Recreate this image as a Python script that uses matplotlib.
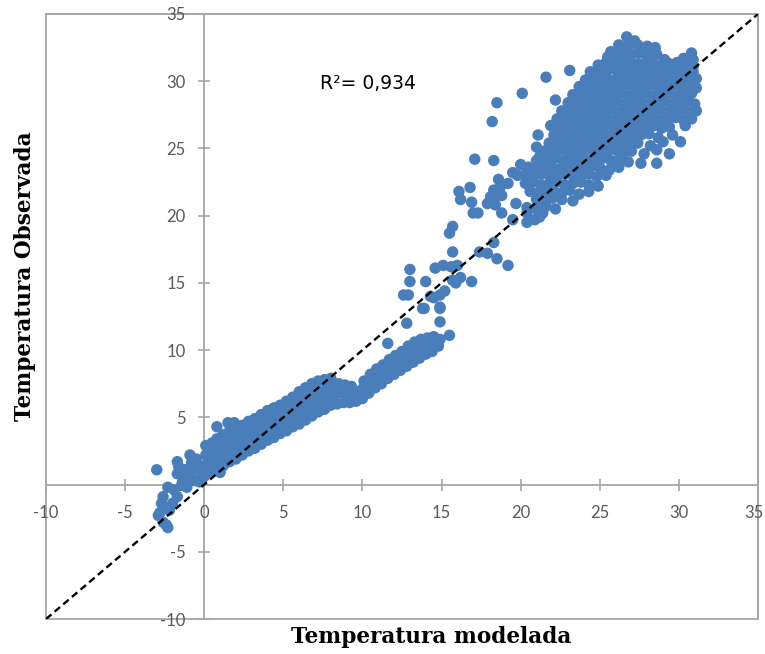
import numpy as np
import matplotlib
matplotlib.use("Agg")
import matplotlib.pyplot as plt
from matplotlib.patches import Rectangle
from matplotlib.transforms import ScaledTranslation

# ---- data (modelada, observada) ----
neg_pts = [(-3.0,1.1),(-2.3,-0.2),(-2.6,-0.9),(-2.7,-1.4),(-2.9,-2.3),(-2.6,-2.8),(-2.3,-3.2),
           (-2.8,-2.1),(-2.4,-3.0),(-1.9,-0.4),(-1.7,-0.9),(-2.0,-1.4),(-1.6,1.3),(-1.7,0.8),
           (-1.7,1.7),(-1.3,0.6),(-0.9,2.2),(-0.8,1.6),(-1.1,-0.2),(-0.6,0.3),(-1.4,0.0),
           (-0.3,0.2),(-2.2,-1.9),(-1.2,1.1),(0.8,4.3),(1.5,4.6),(1.9,4.6),(1.0,0.9)]

band_pts = [(-0.8,0.3),(-0.8,1.1),(-0.5,1.9),(-0.4,0.4),(-0.4,1.2),
            (0.0,0.6),(0.0,1.4),(0.1,2.2),(0.1,2.9),(0.4,0.9),(0.4,1.7),(0.5,2.5),(0.5,3.1),
            (0.8,1.2),(0.8,2.0),(0.9,2.8),(0.8,3.4),(1.2,1.4),(1.2,2.2),(1.3,3.0),(1.2,3.7),
            (1.6,1.7),(1.6,2.5),(1.7,3.3),(1.6,4.0),(2.0,1.9),(2.0,2.7),(2.1,3.5),(2.0,4.2),
            (2.4,2.2),(2.4,3.0),(2.5,3.7),(2.4,4.4),(2.8,2.5),(2.8,3.2),(2.9,4.0),(2.8,4.7),
            (3.2,2.7),(3.2,3.5),(3.3,4.2),(3.2,4.9),(3.6,3.0),(3.6,3.8),(3.7,4.5),(3.6,5.2),
            (4.0,3.3),(4.0,4.0),(4.1,4.8),(4.0,5.5),(4.4,3.5),(4.4,4.3),(4.5,5.0),(4.4,5.7),
            (4.8,3.8),(4.8,4.5),(4.9,5.3),(4.8,5.9),(5.2,4.0),(5.2,4.8),(5.3,5.5),(5.2,6.2),
            (5.6,4.3),(5.6,5.0),(5.7,5.8),(5.6,6.5),(6.0,4.5),(6.0,5.3),(6.1,6.1),(6.0,6.9),
            (6.4,4.8),(6.4,5.6),(6.5,6.4),(6.4,7.2),(6.8,5.1),(6.8,5.9),(6.9,6.7),(6.8,7.5),
            (7.2,5.4),(7.2,6.2),(7.3,6.9),(7.2,7.7),(7.6,5.6),(7.6,6.4),(7.7,7.1),(7.6,7.8),
            (8.0,5.9),(8.0,6.6),(8.1,7.3),(8.0,7.9),(8.4,6.0),(8.4,6.8),(8.5,7.5),
            (8.8,6.1),(8.8,6.8),(8.9,7.4),(9.2,6.1),(9.2,6.8),(9.3,7.3),(9.6,6.2),(9.6,6.9),
            (10.0,6.4),(10.0,7.1),(10.1,7.7),(10.4,6.8),(10.4,7.5),(10.5,8.2),
            (10.8,7.2),(10.8,7.9),(10.9,8.6),(11.2,7.5),(11.2,8.2),(11.3,8.9),
            (11.6,7.9),(11.6,8.6),(11.7,9.3),(11.6,10.5),(12.0,8.2),(12.0,8.9),(12.1,9.6),
            (12.4,8.5),(12.4,9.2),(12.5,9.9),(12.8,8.8),(12.8,9.5),(12.9,10.3),
            (13.2,9.1),(13.2,9.8),(13.3,10.6),(13.6,9.4),(13.6,10.1),(13.7,10.8),
            (14.0,9.7),(14.0,10.3),(14.1,10.9),(14.4,9.9),(14.4,10.5),(14.5,11.0),
            (14.8,10.3),(14.9,10.8),(15.5,11.1)]

mid_pts = [(12.6,14.1),(12.9,14.1),(13.0,15.1),(13.0,16.0),(14.0,15.1),(13.8,13.1),(14.3,14.0),
           (14.5,13.9),(14.9,14.1),(15.2,14.4),(14.9,13.1),(12.8,12.0),(14.9,12.1),(13.9,13.1),
           (14.9,13.2),(14.6,16.1),(15.1,16.3),(15.6,16.2),(16.0,16.3),(15.7,15.2),(16.2,15.4),
           (15.9,15.0),(16.9,15.1),(15.7,17.3),(17.4,17.3),(17.9,17.2),(18.5,16.8),(19.2,16.3),
           (18.3,18.0),(15.5,18.7),(15.7,19.2),(16.1,21.8),(16.8,22.1),(16.2,21.2),(16.9,21.0),
           (17.0,20.2),(17.3,20.2),(18.1,21.4),(18.4,20.8),(18.8,20.2),(19.5,19.7),(20.4,20.2),
           (20.4,19.5),(21.2,19.9),(20.9,19.7),(21.4,20.2),(18.3,21.9),(18.7,22.1),(18.6,22.7),
           (19.2,22.4),(19.8,23.0),(18.8,21.5),(18.3,21.2),(19.7,20.9),(17.9,20.9),(19.5,23.2),
           (20.4,23.4),(21.2,24.4),(17.1,24.2),(18.3,24.1),(18.2,27.0),(18.5,28.4),(20.1,29.1),
           (21.6,30.3),(23.1,30.8),(24.7,30.6),(22.2,28.6),(21.1,26.0),(21.0,25.1),(21.9,26.7)]

blob_pts = [(26.7,33.3),(27.2,33.0),
            (25.7,32.2),(26.2,32.7),(26.8,32.6),(27.4,32.7),(28.0,32.6),(28.5,32.5),(30.8,32.1),
            (25.5,31.8),(26.0,32.0),(26.5,32.1),(27.0,32.0),(27.5,32.1),(28.0,31.9),(28.6,32.0),
            (29.1,31.6),(30.3,31.7),(30.9,31.6),
            (24.9,31.2),(25.4,31.4),(25.9,31.3),(26.4,31.5),(26.9,31.4),(27.4,31.3),(27.9,31.4),
            (28.4,31.3),(28.9,31.2),(29.4,31.3),(29.9,31.4),(30.4,31.2),(30.9,31.1),
            (24.4,30.7),(24.9,30.8),(25.4,30.7),(25.9,30.9),(26.4,30.8),(26.9,30.7),(27.4,30.8),
            (27.9,30.9),(28.4,30.7),(28.9,30.8),(29.4,30.7),(29.9,30.8),(30.4,30.6),(30.9,30.7),
            (31.1,30.2),
            (24.1,30.1),(24.6,30.2),(25.1,30.3),(25.6,30.1),(26.1,30.2),(26.6,30.3),(27.1,30.1),
            (27.6,30.2),(28.1,30.3),(28.6,30.1),(29.1,30.2),(29.6,30.3),(30.1,30.1),(30.6,30.2),
            (23.7,29.6),(24.2,29.5),(24.7,29.7),(25.2,29.6),(25.7,29.5),(26.2,29.6),(26.7,29.7),
            (27.2,29.5),(27.7,29.6),(28.2,29.7),(28.7,29.5),(29.2,29.6),(29.7,29.7),(30.2,29.5),
            (30.7,29.6),(31.1,29.5),
            (23.3,29.0),(23.8,28.9),(24.3,29.1),(24.8,29.0),(25.3,28.9),(25.8,29.0),(26.3,29.1),
            (26.8,28.9),(27.3,29.0),(27.8,29.1),(28.3,28.9),(28.8,29.0),(29.3,29.1),(29.8,28.9),
            (30.3,29.0),(30.8,29.1),
            (23.0,28.4),(23.5,28.3),(24.0,28.5),(24.5,28.4),(25.0,28.3),(25.5,28.4),
            (26.0,28.5),(26.5,28.3),(27.0,28.4),(27.5,28.5),(28.0,28.3),(28.5,28.4),(29.0,28.5),
            (29.5,28.3),(30.0,28.4),(30.5,28.5),(31.0,28.3),
            (22.6,27.8),(23.1,27.7),(23.6,27.9),(24.1,27.8),(24.6,27.7),(25.1,27.8),(25.6,27.9),
            (26.1,27.7),(26.6,27.8),(27.1,27.9),(27.6,27.7),(28.1,27.8),(28.6,27.9),(29.1,27.7),
            (29.6,27.8),(30.1,27.9),(30.6,27.7),(31.1,27.8),
            (22.3,27.2),(22.8,27.1),(23.3,27.3),(23.8,27.2),(24.3,27.1),(24.8,27.2),(25.3,27.3),
            (25.8,27.1),(26.3,27.2),(26.8,27.3),(27.3,27.1),(27.8,27.2),(28.3,27.3),(28.8,27.1),
            (29.3,27.2),(29.8,27.3),(30.3,27.1),(30.8,27.2),
            (22.4,26.6),(22.9,26.5),(23.4,26.7),(23.9,26.6),(24.4,26.5),(24.9,26.6),
            (25.4,26.7),(25.9,26.5),(26.4,26.6),(26.9,26.7),(27.4,26.5),(27.9,26.6),(28.4,26.7),
            (28.9,26.5),(29.4,26.6),(30.4,26.7),
            (22.1,26.0),(22.6,25.9),(23.1,26.1),(23.6,26.0),(24.1,25.9),(24.6,26.0),
            (25.1,26.1),(25.6,25.9),(26.1,26.0),(26.6,26.1),(27.1,25.9),(27.6,26.0),(28.1,26.1),
            (28.7,25.8),(29.6,26.0),
            (21.8,25.4),(22.3,25.3),(22.8,25.5),(23.3,25.4),(23.8,25.3),(24.3,25.4),
            (24.8,25.5),(25.3,25.3),(25.8,25.4),(26.3,25.5),(26.8,25.3),(27.4,25.4),(28.2,25.2),
            (29.0,25.5),(30.1,25.5),
            (21.5,24.8),(22.0,24.7),(22.5,24.9),(23.0,24.8),(23.5,24.7),(24.0,24.8),(24.5,24.9),
            (25.0,24.7),(25.5,24.8),(26.0,24.9),(26.5,24.7),(27.0,24.8),(27.8,24.6),(28.6,24.9),
            (29.4,24.6),
            (21.0,24.1),(21.6,24.2),(22.2,24.3),(22.7,24.1),(23.2,24.2),(23.7,24.3),(24.2,24.1),
            (24.7,24.2),(25.2,24.3),(25.7,24.1),(26.2,24.2),(26.8,24.0),(27.6,23.9),(28.6,23.9),
            (20.5,23.6),(21.0,23.5),(21.5,23.7),(22.0,23.6),(22.5,23.5),(23.0,23.7),(23.5,23.6),
            (24.0,23.5),(24.5,23.7),(25.0,23.6),(25.6,23.4),(26.2,23.6),
            (20.0,23.8),(20.3,23.0),(20.8,22.9),(21.3,23.1),(21.8,23.0),(22.3,22.9),(22.8,23.1),
            (23.3,23.0),(23.8,22.9),(24.3,23.1),(24.8,22.9),(25.4,23.0),
            (20.3,22.4),(20.8,22.5),(21.3,22.3),(21.8,22.4),(22.3,22.5),(22.8,22.3),(23.3,22.4),
            (23.8,22.5),(24.3,22.3),(24.9,22.2),
            (20.6,21.8),(21.1,21.7),(21.6,21.9),(22.1,21.8),(22.6,21.7),(23.1,21.9),(23.7,21.6),
            (24.3,21.8),
            (21.0,21.2),(21.5,21.1),(22.0,21.3),(22.6,21.2),(23.3,21.1),
            (20.4,20.6),(21.0,20.5),(21.6,20.7),(22.2,20.5)]

ticks = [-10, -5, 0, 5, 10, 15, 20, 25, 30, 35]
tick_labels = [str(t) for t in ticks]
r2_text = "R²= 0,934"
xlabel = "Temperatura modelada"
ylabel = "Temperatura Observada"

# ---- figure ----
fig = plt.figure(figsize=(7.65, 6.54), dpi=100)
ax = fig.add_axes([46/765, 35/654, 712/765, 605/654])
ax.set_xlim(-10, 35)
ax.set_ylim(-10, 35)

pts = np.array(neg_pts + band_pts + mid_pts + blob_pts)
ax.scatter(pts[:, 0], pts[:, 1], s=68, color='#4a7ebb', edgecolors='none', zorder=2)
ax.plot([-10, 35], [-10, 35], color='black', lw=1.7, linestyle=(0, (3.0, 1.8)), zorder=3)

grey = '#a6a6a6'
for side in ['left', 'bottom']:
    ax.spines[side].set_position(('data', 0))
for side in ax.spines:
    ax.spines[side].set_color(grey)
    ax.spines[side].set_linewidth(1.3)
    ax.spines[side].set_zorder(1)
ax.add_patch(Rectangle((0, 0), 1, 1, transform=ax.transAxes, fill=False,
                       edgecolor=grey, lw=1.3, zorder=1, clip_on=False))

ax.set_xticks(ticks)
ax.set_xticklabels(tick_labels)
ax.set_yticks(ticks)
ax.set_yticklabels(tick_labels)
ax.tick_params(direction='inout', length=9, width=1.2, color=grey,
               labelcolor='#595959', labelsize=12)
ax.tick_params(axis='x', pad=10)
ax.tick_params(axis='y', pad=9)
for lab in ax.get_xticklabels() + ax.get_yticklabels():
    lab.set_fontfamily('Lato')
last = ax.get_xticklabels()[-1]
last.set_transform(last.get_transform() + ScaledTranslation(-3/72, 0, fig.dpi_scale_trans))

ax.text(7.3, 29.85, r2_text, fontsize=13.5, family='DejaVu Sans', color='black', va='center')

fig.text(431/765, 17/654, xlabel, ha='center', va='center', fontsize=15.6,
         family='DejaVu Serif', fontweight='bold')
fig.text(25/765, 378/654, ylabel, ha='center', va='center', rotation=90, fontsize=15.6,
         family='DejaVu Serif', fontweight='bold')

fig.savefig('out.png', dpi=100)
